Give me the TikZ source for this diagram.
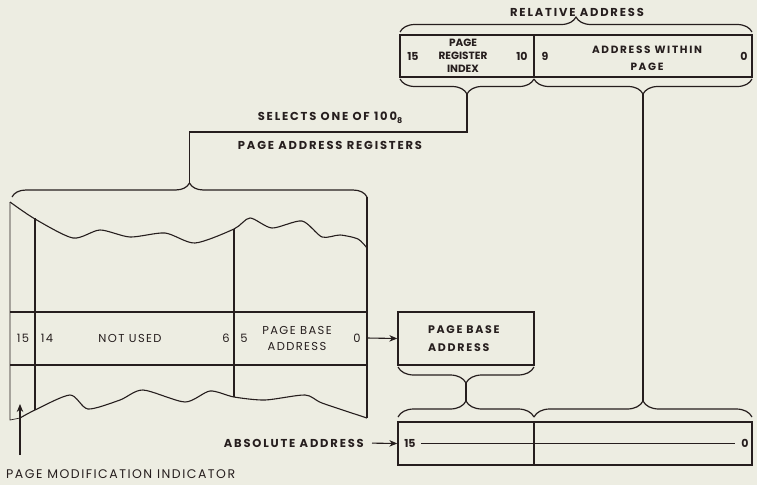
\documentclass[tikz,border=0pt]{standalone}
\usepackage{fontspec}
\setmainfont{Poppins}
\newfontfamily\hdfont[LetterSpace=16]{Poppins}
\newfontfamily\lgfont[LetterSpace=12]{Poppins}
\newfontfamily\tightfont{Poppins}
\usetikzlibrary{arrows.meta,decorations.pathreplacing}
\definecolor{paper}{RGB}{237,237,226}
\definecolor{ink}{RGB}{38,30,30}

\tikzset{
  wire/.style={draw=ink, line width=1.1pt},
  thinwire/.style={draw=ink, line width=0.7pt},
  frame/.style={draw=ink, line width=1.4pt},
  brc/.style={draw=ink, line width=1.2pt, decorate, decoration={brace, amplitude=#1}},
  brc/.default=15pt,
  brcd/.style={brc=#1, decoration={mirror}},
  brcd/.default=15pt,
  arr/.style={draw=ink, line width=1.1pt, -{Stealth[length=8pt,width=6.5pt]}},
  txt/.style={font=\hdfont\bfseries\fontsize{11.5}{13}\selectfont, text=ink, inner sep=0pt, align=center},
  small/.style={font=\tightfont\bfseries\fontsize{10.5}{13}\selectfont, text=ink, inner sep=0pt, align=center},
  row/.style={font=\lgfont\fontsize{11.5}{16}\selectfont, text=ink, inner sep=0pt, align=center},
}

\begin{document}
\begin{tikzpicture}[x=1pt, y=-1pt]
  \fill[paper] (0,0) rectangle (757,485);
  \useasboundingbox (0,0) rectangle (757,485);

  % relative address
  \node[txt] (relt) at (577,12) {RELATIVE ADDRESS};
  \node[frame, minimum width=352pt, minimum height=42pt] (rel) at (576,56) {};
  \draw[wire] (534,35) -- (534,77);
  \draw[brc] (400,32) -- (752,32);
  \node[small, font=\tightfont\bfseries\fontsize{11}{13}\selectfont] (r15) at (413,56) {15};
  \node[small] (ridx) at (463,56) {PAGE\\REGISTER\\INDEX};
  \node[small, font=\tightfont\bfseries\fontsize{11}{13}\selectfont] (r10) at (522,56) {10};
  \node[small, font=\tightfont\bfseries\fontsize{11}{13}\selectfont] (r9) at (545,56) {9};
  \node[txt, font=\hdfont\bfseries\fontsize{10.5}{17}\selectfont] (rwin) at (647,58) {ADDRESS WITHIN\\PAGE};
  \node[small, font=\tightfont\bfseries\fontsize{11}{13}\selectfont] (r0) at (744,56) {0};
  \draw[brcd] (400,79) -- (534,79);
  \draw[brcd] (534,79) -- (752,79);

  % selects one of the page registers
  \node[txt] (sel) at (330,118) {SELECTS ONE OF 100\raisebox{-3pt}{\fontsize{8}{8}\selectfont 8}};
  \node[txt] (par) at (330,145) {PAGE ADDRESS REGISTERS};
  \coordinate (idxtip) at (467,94);
  \coordinate (selbend) at (330,132);
  \coordinate (regtip) at (189.5,183);
  \draw[wire] (idxtip) |- (selbend) -| (regtip);

  % page address registers
  \draw[brc=14pt] (12,197) -- (367,197);
  \draw[thinwire] (10,202) -- (10,420) -- (20,418);
  \draw[wire] (367,197) -- (367,418);
  \draw[wire] (35,218) -- (35,410);
  \draw[wire] (234,229) -- (234,397);
  \draw[wire] plot[smooth, tension=0.45] coordinates {(10,202) (35,219) (73,238) (100,230) (130,237) (165,233) (195,243) (234,229) (250,218) (272,228) (302,221) (322,237) (340,235) (358,239) (367,248)};
  \draw[wire] plot[smooth, tension=0.45] coordinates {(20,418) (35,410) (70,395) (88,409) (120,400) (143,390) (185,402) (210,391) (234,397) (265,400) (305,395) (322,403) (367,418)};
  \draw[wire] (10,312) -- (367,312);
  \draw[wire] (10,365) -- (367,365);
  \node[row] (p15) at (23,338) {15};
  \node[row] (p14) at (47,338) {14};
  \node[row] (pnu) at (130,338) {NOT USED};
  \node[row] (p6) at (226,338) {6};
  \node[row] (p5) at (244,338) {5};
  \node[row] (ppba) at (297,338) {PAGE BASE\\ADDRESS};
  \node[row] (p0) at (357,338) {0};

  % page base address
  \node[frame, txt, font=\hdfont\bfseries\fontsize{11}{18}\selectfont, minimum width=136pt, minimum height=53pt, text width=76pt, align=left] (pba) at (466,338.5) {PAGE BASE\\ADDRESS};
  \coordinate (rowout) at (367,338);
  \draw[arr] (rowout) -- (pba.west);
  \draw[brcd=16pt] (398,367) -- (534,367);

  % absolute address
  \node[frame, minimum width=354pt, minimum height=43pt] (abs) at (575,443.5) {};
  \draw[wire] (534,422) -- (534,465);
  \draw[brc=16pt] (398,417) -- (534,417);
  \draw[brc=16pt] (534,417) -- (752,417);
  \node[small, font=\tightfont\bfseries\fontsize{11}{13}\selectfont] (a15) at (410,443) {15};
  \node[small, font=\tightfont\bfseries\fontsize{11}{13}\selectfont] (a0) at (745,443) {0};
  \draw[thinwire, shorten <=5pt, shorten >=6pt] (a15.east) -- (a0.west);
  \node[txt, anchor=east] (absl) at (364,443) {ABSOLUTE ADDRESS};
  \draw[arr, shorten <=8pt] (absl.east) -- (abs.west);

  \coordinate (pbatip) at (466,383);
  \coordinate (abstipl) at (466,401);
  \coordinate (pagtip) at (643,94);
  \coordinate (abstipr) at (643,401);
  \draw[wire] (pbatip) -- (abstipl);
  \draw[wire] (pagtip) -- (abstipr);

  % page modification indicator
  \node[row, anchor=west, font=\lgfont\fontsize{12.5}{14}\selectfont] (pmil) at (6,474) {PAGE MODIFICATION INDICATOR};
  \coordinate (pmifoot) at (20,455);
  \coordinate (pmi) at (20,404);
  \draw[arr] (pmifoot) -- (pmi);
\end{tikzpicture}
\end{document}
